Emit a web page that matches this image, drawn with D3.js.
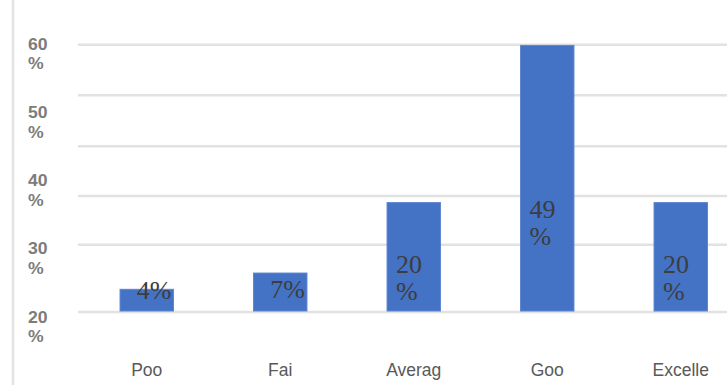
<!DOCTYPE html>
<html>
<head>
<meta charset="utf-8">
<script src="https://cdn.jsdelivr.net/npm/d3@7"></script>
<style>
  html, body { margin: 0; padding: 0; background: #fff; }
  svg { display: block; }
</style>
</head>
<body>
<svg id="chart" width="727" height="385"></svg>
<script>
// Rating categories and the share of responses in each
const categories = ["Poo", "Fai", "Averag", "Goo", "Excelle"];
const shares = [4, 7, 20, 49, 20];

// Axis tick labels and horizontal grid levels (in percent)
const yTickLabels = [20, 30, 40, 50, 60];
const gridLevels = [0, 12.4, 21.4, 30.6, 40, 49.3];

const W = 727, H = 385;
const svg = d3.select("#chart");

// Scales
const x = d3.scaleBand()
  .domain(categories)
  .range([80, 747.5])
  .paddingInner(0.6)
  .paddingOuter(0.3);

const y = d3.scaleLinear().domain([0, 50]).range([311, 40]);

// Positions for the stacked "NN / %" axis labels
const yLabel = d3.scaleLinear().domain([20, 60]).range([322, 49]);

// Left frame line
svg.append("line")
  .attr("x1", 13).attr("x2", 13)
  .attr("y1", 0).attr("y2", H)
  .attr("stroke", "#e3e3e3")
  .attr("stroke-width", 2.5);

// Gridlines
svg.append("g")
  .selectAll("line")
  .data(gridLevels)
  .join("line")
  .attr("x1", 78).attr("x2", W)
  .attr("y1", d => y(d) + 1).attr("y2", d => y(d) + 1)
  .attr("stroke", "#e2e2e2")
  .attr("stroke-width", 2.5);

// Y axis labels: number on one line, percent sign beneath
const yAxis = d3.axisLeft(yLabel)
  .tickValues(yTickLabels)
  .tickSize(0)
  .tickFormat(d => d);

const yAxisG = svg.append("g")
  .attr("transform", "translate(28,0)")
  .call(yAxis);
yAxisG.select(".domain").remove();
yAxisG.selectAll(".tick text")
  .attr("x", 0)
  .attr("dy", null)
  .attr("text-anchor", "start")
  .attr("fill", "#7c7c7c")
  .attr("font-family", "'Liberation Sans', Arial, sans-serif")
  .attr("font-size", 16)
  .attr("font-weight", "bold")
  .attr("transform", "scale(1.1,1)")
  .text(null)
  .each(function (d) {
    const t = d3.select(this);
    t.append("tspan").attr("x", 0).attr("y", 0).text(d);
    t.append("tspan").attr("x", 0).attr("y", 20).text("%");
  });

// Bars
svg.append("g")
  .selectAll("rect")
  .data(categories)
  .join("rect")
  .attr("x", d => x(d))
  .attr("width", x.bandwidth())
  .attr("y", (d, i) => y(shares[i]))
  .attr("height", (d, i) => y(0) - y(shares[i]))
  .attr("fill", "#4472c4")
  .attr("stroke", "#5b84d0")
  .attr("stroke-width", 1);

// Value labels inside the bars
const labelG = svg.append("g")
  .attr("font-family", "'Liberation Serif', 'Times New Roman', serif")
  .attr("font-size", 26)
  .attr("fill", "#3d3d3d");

categories.forEach((c, i) => {
  const v = shares[i];
  const base = Math.min(y(v * 0.35), y(0) - 12);
  if (v < 10) {
    labelG.append("text")
      .attr("x", x(c) + x.bandwidth() - 2)
      .attr("y", base)
      .attr("text-anchor", "end")
      .text(v + "%");
  } else {
    const t = labelG.append("text").attr("text-anchor", "start");
    t.append("tspan").attr("x", x(c) + 9).attr("y", base).text(v);
    t.append("tspan").attr("x", x(c) + 9).attr("y", base + 27).text("%");
  }
});

// X axis category labels
const xAxis = d3.axisBottom(x).tickSize(0);
const xAxisG = svg.append("g")
  .attr("transform", "translate(0,376)")
  .call(xAxis);
xAxisG.select(".domain").remove();
xAxisG.selectAll(".tick text")
  .attr("y", 0)
  .attr("dy", null)
  .attr("fill", "#595959")
  .attr("font-family", "'Liberation Sans', Arial, sans-serif")
  .attr("font-size", 17.5);
</script>
</body>
</html>
